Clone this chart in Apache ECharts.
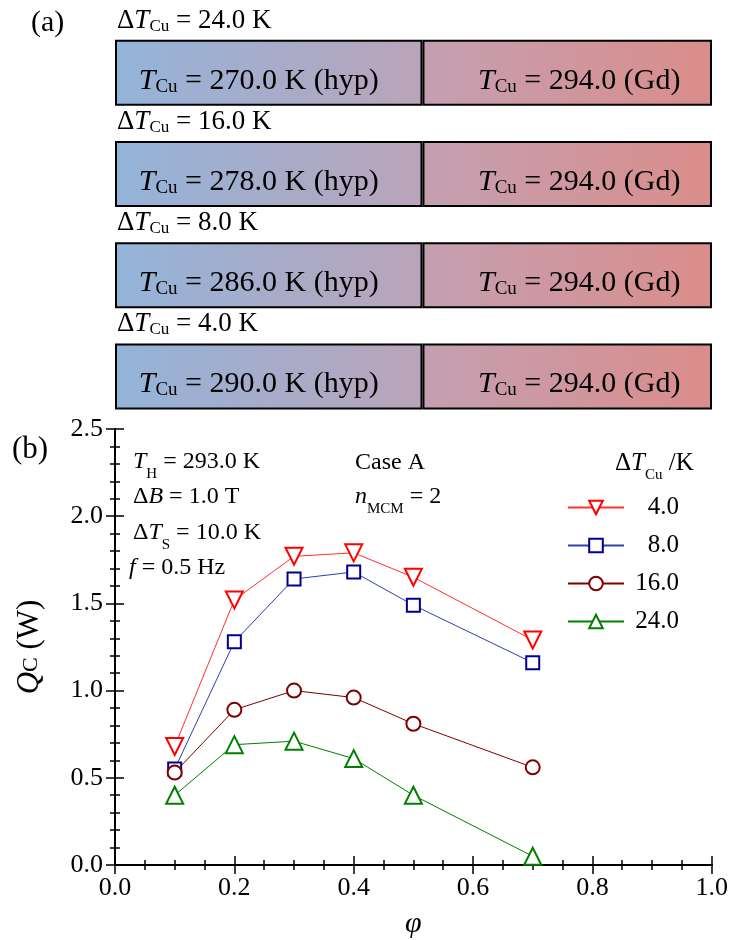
<!DOCTYPE html>
<html><head><meta charset="utf-8">
<script src="https://cdn.jsdelivr.net/npm/echarts@6/dist/echarts.min.js"></script>
<style>html,body{margin:0;padding:0;background:#fff}#c{width:731px;height:940px}</style>
</head><body><div id="c"></div>
<script>
// ---- data: panel (b) ----
const phi = [0.1, 0.2, 0.3, 0.4, 0.5, 0.7];
const seriesNames = ['4.0', '8.0', '16.0', '24.0'];
const q4  = [0.68, 1.52, 1.77, 1.79, 1.65, 1.29];
const q8  = [0.55, 1.28, 1.64, 1.68, 1.49, 1.16];
const q16 = [0.53, 0.89, 1.00, 0.96, 0.81, 0.56];
const q24 = [0.40, 0.69, 0.71, 0.61, 0.40, 0.05];
// ---- data: panel (a) ----
const boxDT = [24.0, 16.0, 8.0, 4.0];
const tHyp  = [270.0, 278.0, 286.0, 290.0];
const tGd   = [294.0, 294.0, 294.0, 294.0];
const segHyp = [1.03, 1.03, 1.03, 1.03];
const segGd  = [0.97, 0.97, 0.97, 0.97];

const F = '"Liberation Serif","Times New Roman",serif';
// rich text styles: n normal, i italic, s subscript (lowered by padding P)
function rich(fs, sfs, P) {
  return {
    n: {fontFamily: F, fontSize: fs, color: '#000', lineHeight: fs + 4},
    i: {fontFamily: F, fontSize: fs, color: '#000', fontStyle: 'italic', lineHeight: fs + 4},
    s: {fontFamily: F, fontSize: sfs, color: '#000', lineHeight: sfs, padding: [P, 0, 0, 0]}
  };
}
const chart = echarts.init(document.getElementById('c'), null, {renderer: 'canvas'});

function mk(name, data, color, lineColor, symbol, size, rotate) {
  return {
    name: name, type: 'line', xAxisIndex: 0, yAxisIndex: 0,
    data: phi.map((p, k) => [p, data[k]]),
    symbol: symbol, symbolSize: size, symbolRotate: rotate,
    lineStyle: {color: lineColor, width: 1},
    itemStyle: {color: color, borderColor: color, borderWidth: 2},
    z: 5
  };
}
const gradL = new echarts.graphic.LinearGradient(0, 0, 1, 0, [{offset: 0, color: '#93B4DA'}, {offset: 1, color: '#BAA4B9'}]);
const gradR = new echarts.graphic.LinearGradient(0, 0, 1, 0, [{offset: 0, color: '#C4A0B2'}, {offset: 1, color: '#DA8D8A'}]);
const tick = {inside: true, length: 9, lineStyle: {color: '#000', width: 1.5}};
const mtick = (n) => ({show: true, splitNumber: n, length: 5, lineStyle: {color: '#000', width: 1.5}});
function txt(x, y, text, r) {
  return {type: 'text', x: x, y: y, style: {text: text, rich: r, align: 'left', verticalAlign: 'middle'}};
}

const option = {
  backgroundColor: '#fff',
  animation: false,
  grid: [
    {left: 115, right: 18, top: 429, bottom: 75},
    {left: 115, right: 19, top: 22, height: 405}
  ],
  xAxis: [
    {type: 'value', gridIndex: 0, min: 0, max: 1, interval: 0.2, position: 'bottom',
     axisLine: {lineStyle: {color: '#000', width: 2}},
     axisTick: tick, minorTick: mtick(4), splitLine: {show: false},
     axisLabel: {fontFamily: F, fontSize: 26, color: '#000', margin: 10, formatter: v => v.toFixed(1)},
     name: 'φ', nameLocation: 'middle', nameGap: 44,
     nameTextStyle: {fontFamily: F, fontSize: 30, fontStyle: 'italic', color: '#000'}},
    {type: 'value', gridIndex: 0, min: 0, max: 1, interval: 0.2, position: 'top',
     axisLine: {lineStyle: {color: '#000', width: 2}},
     axisTick: tick, minorTick: mtick(4), splitLine: {show: false}, axisLabel: {show: false}},
    {type: 'value', gridIndex: 1, min: 0, max: 2, show: false}
  ],
  yAxis: [
    {type: 'value', gridIndex: 0, min: 0, max: 2.5, interval: 0.5,
     axisLine: {lineStyle: {color: '#000', width: 2}},
     axisTick: tick, minorTick: mtick(5), splitLine: {show: false},
     axisLabel: {fontFamily: F, fontSize: 26, color: '#000', margin: 12, formatter: v => v.toFixed(1)},
     name: '{i|Q}{c|C}{n| (W)}', nameLocation: 'middle', nameGap: 70, nameRotate: 90,
     nameTextStyle: {rich: {
       i: {fontFamily: F, fontSize: 31, fontStyle: 'italic', color: '#000'},
       c: {fontFamily: F, fontSize: 22, color: '#000', padding: [4, 0, 0, 0]},
       n: {fontFamily: F, fontSize: 31, color: '#000'}}}},
    {type: 'value', gridIndex: 0, min: 0, max: 2.5, interval: 0.5, position: 'right',
     axisLine: {show: true, lineStyle: {color: '#000', width: 2}},
     axisTick: tick, minorTick: mtick(5), splitLine: {show: false}, axisLabel: {show: false}},
    {type: 'category', gridIndex: 1, inverse: true, data: boxDT.map(String), show: false}
  ],
  legend: {
    data: seriesNames, orient: 'vertical', left: 562, top: 490,
    itemWidth: 56, itemHeight: 17, itemGap: 13,
    formatter: n => '{r|' + n + '}',
    textStyle: {rich: {r: {fontFamily: F, fontSize: 25, color: '#000', lineHeight: 17, width: 50, align: 'right'}}}
  },
  series: [
    mk('4.0', q4, '#FF0000', '#FF3030', 'emptyTriangle', 17, 180),
    mk('8.0', q8, '#000090', '#3040A8', 'emptyRect', 13, 0),
    mk('16.0', q16, '#800000', '#800000', 'emptyCircle', 14, 0),
    mk('24.0', q24, '#008000', '#008000', 'emptyTriangle', 17, 0),
    {type: 'bar', xAxisIndex: 2, yAxisIndex: 2, stack: 'box', barWidth: 66,
     data: segHyp, itemStyle: {color: gradL, borderColor: '#000', borderWidth: 2},
     label: {show: true, position: 'inside', offset: [-10, 8],
       formatter: p => '{i|T}{s|Cu}{n| = ' + tHyp[p.dataIndex].toFixed(1) + ' K (hyp)}',
       rich: rich(30, 19, 12)}},
    {type: 'bar', xAxisIndex: 2, yAxisIndex: 2, stack: 'box', barWidth: 66,
     data: segGd, itemStyle: {color: gradR, borderColor: '#000', borderWidth: 2},
     label: {show: true, position: 'inside', offset: [12, 8],
       formatter: p => '{i|T}{s|Cu}{n| = ' + tGd[p.dataIndex].toFixed(1) + ' (Gd)}',
       rich: rich(30, 19, 12)}},
    {type: 'scatter', xAxisIndex: 2, yAxisIndex: 2, symbolSize: 0,
     itemStyle: {opacity: 1},
     data: boxDT.map((d, k) => [0, k]),
     label: {show: true, position: [2, -52], align: 'left', verticalAlign: 'middle', color: '#000', opacity: 1,
       formatter: p => '{n|Δ}{i|T}{s|Cu}{n| = ' + boxDT[p.dataIndex].toFixed(1) + ' K}',
       rich: rich(27, 17, 11)}}
  ],
  graphic: [
    {type: 'text', x: 31, y: 23, style: {text: '(a)', font: '30px ' + F, fill: '#000', verticalAlign: 'middle'}},
    {type: 'text', x: 12, y: 450, style: {text: '(b)', font: '31px ' + F, fill: '#000', verticalAlign: 'middle'}},
    txt(133, 462, '{i|T}{s|H}{n| = 293.0 K}', rich(24, 15, 24)),
    txt(133, 497, '{n|Δ}{i|B}{n| = 1.0 T}', rich(24, 15, 24)),
    txt(133, 533, '{n|Δ}{i|T}{s|S}{n| = 10.0 K}', rich(24, 15, 24)),
    txt(129, 568, '{i|f}{n| = 0.5 Hz}', rich(24, 15, 24)),
    txt(355, 463, '{n|Case A}', rich(24, 15, 24)),
    txt(355, 497, '{i|n}{s|MCM}{n| = 2}', rich(24, 15, 24)),
    txt(615, 463, '{n|Δ}{i|T}{s|Cu}{n| /K}', rich(25, 15, 24))
  ]
};
chart.setOption(option);
</script></body></html>
